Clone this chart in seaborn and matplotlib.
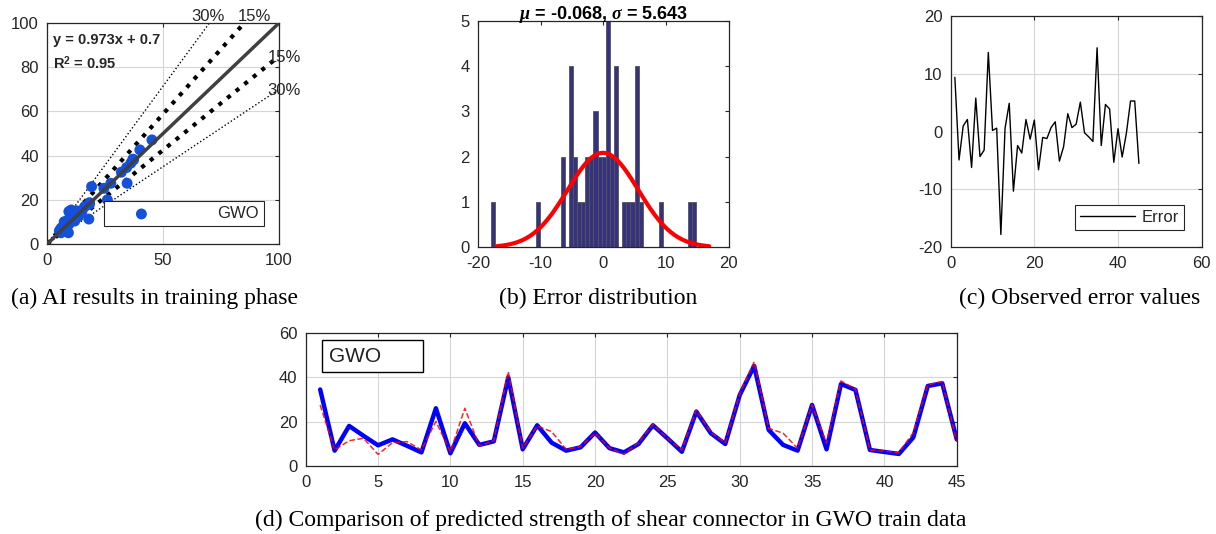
import numpy as np
import pandas as pd
import matplotlib
matplotlib.use('Agg')
import matplotlib.pyplot as plt
import seaborn as sns

# sample index for the GWO train data
sample_idx = list(range(1, 46))
# predicted strength (blue, solid)
predicted = [34.5, 6.8, 18.0, 13.5, 9.2, 11.9, 9.0, 6.0, 26.0, 5.6,
             19.2, 9.4, 11.0, 40.0, 7.4, 18.3, 10.4, 6.8, 8.3, 15.0,
             7.9, 6.0, 9.8, 18.3, 12.4, 6.3, 24.5, 14.7, 9.8, 32.0,
             45.2, 16.2, 9.4, 6.8, 27.5, 7.4, 37.0, 34.3, 7.1, 6.2,
             5.3, 12.8, 36.1, 37.3, 11.9]
# measured strength (red, dashed)
actual = [27.5, 7.1, 11.3, 12.4, 5.1, 10.4, 10.9, 7.1, 20.0, 6.3,
          26.0, 8.9, 11.3, 42.6, 7.9, 18.0, 15.4, 7.4, 8.6, 14.7,
          8.0, 5.1, 10.4, 18.7, 12.4, 7.1, 25.2, 15.0, 10.4, 32.5,
          47.1, 16.9, 14.7, 7.9, 27.5, 10.1, 38.4, 34.6, 7.1, 6.6,
          5.9, 15.0, 36.6, 38.1, 10.9]
# observed error values, panel (c)
error_vals = [9.4, -4.9, 1.0, 2.1, -6.2, 5.8, -4.3, -3.2, 13.7, 0.2,
              0.6, -17.8, 0.6, 4.9, -10.3, -2.4, -3.7, 2.1, -1.3, 2.0,
              -6.6, -1.0, -1.2, 0.7, 1.7, -5.1, -2.6, 3.1, 0.7, 1.3,
              5.1, -0.2, -0.9, -1.7, 14.5, -2.4, 4.7, 3.9, -5.3, 0.5,
              -4.4, -0.3, 5.3, 5.3, -5.5]
# histogram of the errors, panel (b): 50 bins
hist_lo, hist_hi = -17.97, 14.8
hist_counts = [1, 0, 0, 0, 0, 0, 0, 0, 0, 0,
               0, 1, 0, 0, 0, 0, 0, 2, 0, 4,
               2, 1, 1, 2, 2, 3, 2, 2, 5, 2,
               4, 0, 1, 1, 1, 4, 1, 0, 0, 0,
               0, 1, 0, 0, 0, 0, 0, 0, 1, 1]
mu, sigma = -0.068, 5.643
fit_a, fit_b, r2 = 0.973, 0.7, 0.95

sns.set_theme(style='white')
plt.rcParams['font.family'] = ['Liberation Sans', 'DejaVu Sans']
plt.rcParams['axes.unicode_minus'] = False
plt.rcParams['mathtext.fontset'] = 'custom'
plt.rcParams['mathtext.it'] = 'Liberation Serif:italic:bold'
plt.rcParams['mathtext.rm'] = 'Liberation Sans:bold'

axcol = '#262626'
blue = '#1450dc'
navy = '#35337f'

fig = plt.figure(figsize=(12.16, 5.34), dpi=100)
ax_a = fig.add_axes([0.0387, 0.543, 0.1908, 0.414])
ax_b = fig.add_axes([0.393, 0.537, 0.2064, 0.424])
ax_c = fig.add_axes([0.7818, 0.537, 0.2064, 0.433])
ax_d = fig.add_axes([0.2514, 0.128, 0.5354, 0.248])


def matlab_style(ax, grid=True):
    for s in ax.spines.values():
        s.set_color(axcol)
        s.set_linewidth(0.9)
    ax.tick_params(direction='in', top=True, right=True, length=3,
                   width=0.8, color=axcol, labelsize=12, labelcolor=axcol)
    ax.tick_params(axis='x', pad=6.5)
    ax.tick_params(axis='y', pad=6)
    if grid:
        ax.grid(True, color='#d6d6d6', linewidth=0.8)
        ax.set_axisbelow(True)


# (a) scatter vs. error bands
df = pd.DataFrame({'pred': predicted, 'meas': actual})
xs = np.array([0, 100])
ax_a.plot(xs, xs / 0.7, ':', color='black', lw=1, zorder=2)
ax_a.plot(xs, xs * 0.7, ':', color='black', lw=1, zorder=2)
ax_a.plot(xs, xs / 0.85, ':', color='black', lw=3, zorder=2)
ax_a.plot(xs, xs * 0.85, ':', color='black', lw=3, zorder=2)
sns.scatterplot(data=df, x='pred', y='meas', ax=ax_a, color=blue, s=62,
                edgecolor='none', label='GWO', zorder=3)
ax_a.plot(xs, xs, '-', color='#404040', lw=2.5, zorder=4)
ax_a.set_xlim(0, 100)
ax_a.set_ylim(0, 100)
ax_a.set_xticks([0, 50, 100])
ax_a.set_yticks([0, 20, 40, 60, 80, 100])
ax_a.set_xlabel('')
ax_a.set_ylabel('')
matlab_style(ax_a)
ax_a.text(2.5, 90.5, f'y = {fit_a}x + {fit_b}', fontsize=10.5, fontweight='bold')
ax_a.text(2.5, 79, f'R$^2$ = {r2}', fontsize=10.5, fontweight='bold')
for tx, ty, lab in [(62, 101, '30%'), (82, 101, '15%'),
                    (95, 82.5, '15%'), (95, 67.5, '30%')]:
    ax_a.text(tx, ty, lab, fontsize=12, color=axcol, clip_on=False)
leg = ax_a.legend(loc='lower left', bbox_to_anchor=(0.245, 0.08),
                  handlelength=3.9, handletextpad=2.6, borderpad=0.3,
                  fontsize=12, fancybox=False, framealpha=1,
                  edgecolor=axcol, borderaxespad=0)
leg.get_frame().set_linewidth(0.8)

# (b) error histogram with normal fit
edges = np.linspace(hist_lo, hist_hi, len(hist_counts) + 1)
hdf = pd.DataFrame({'center': (edges[:-1] + edges[1:]) / 2,
                    'count': hist_counts})
sns.histplot(data=hdf, x='center', weights='count', bins=list(edges), ax=ax_b,
             color=navy, alpha=1, edgecolor='#555555', linewidth=0.6)
xx = np.linspace(mu - 3 * sigma, mu + 3 * sigma, 200)
bw = edges[1] - edges[0]
yy = sum(hist_counts) * bw * np.exp(-0.5 * ((xx - mu) / sigma) ** 2) / (sigma * np.sqrt(2 * np.pi))
ax_b.plot(xx, yy, color='red', lw=3)
ax_b.set_xlim(-20, 20)
ax_b.set_ylim(0, 5)
ax_b.set_xticks([-20, -10, 0, 10, 20])
ax_b.set_yticks([0, 1, 2, 3, 4, 5])
ax_b.set_xlabel('')
ax_b.set_ylabel('')
matlab_style(ax_b, grid=False)
ax_b.set_title(rf'$\mu$ = {mu}, $\sigma$ = {sigma}', fontsize=13,
               fontweight='bold', color='black', pad=1)

# (c) observed error values
sns.lineplot(x=sample_idx, y=error_vals, ax=ax_c, color='black', lw=1,
             label='Error')
ax_c.set_xlim(0, 60)
ax_c.set_ylim(-20, 20)
ax_c.set_xticks([0, 20, 40, 60])
ax_c.set_yticks([-20, -10, 0, 10, 20])
matlab_style(ax_c)
leg = ax_c.legend(loc='lower right', bbox_to_anchor=(0.93, 0.075),
                  handlelength=3.3, handletextpad=0.4, borderpad=0.3,
                  fontsize=12, fancybox=False, framealpha=1,
                  edgecolor=axcol, borderaxespad=0)
leg.get_frame().set_linewidth(0.8)

# (d) predicted vs measured strength
sns.lineplot(x=sample_idx, y=predicted, ax=ax_d, color='blue', lw=3.2)
sns.lineplot(x=sample_idx, y=actual, ax=ax_d, color='red', lw=1.1,
             linestyle='--', alpha=0.85)
ax_d.set_xlim(0, 45)
ax_d.set_ylim(0, 60)
ax_d.set_xticks(range(0, 46, 5))
ax_d.set_yticks([0, 20, 40, 60])
matlab_style(ax_d)
ax_d.add_patch(plt.Rectangle((0.025, 0.71), 0.155, 0.235, transform=ax_d.transAxes,
                             facecolor='white', edgecolor='black', lw=1, zorder=5))
ax_d.text(0.036, 0.825, 'GWO', transform=ax_d.transAxes, fontsize=15,
          va='center', ha='left', color='#222222', zorder=6)

# captions
cap = dict(fontsize=17, family='Liberation Serif', color='black', va='center')
fig.text(0.127, 0.442, '(a) AI results in training phase', ha='center', **cap)
fig.text(0.492, 0.442, '(b) Error distribution', ha='center', **cap)
fig.text(0.888, 0.442, '(c) Observed error values', ha='center', **cap)
fig.text(0.502, 0.026, '(d) Comparison of predicted strength of shear connector in GWO train data',
         ha='center', **cap)

fig.savefig('out.png', dpi=100)
